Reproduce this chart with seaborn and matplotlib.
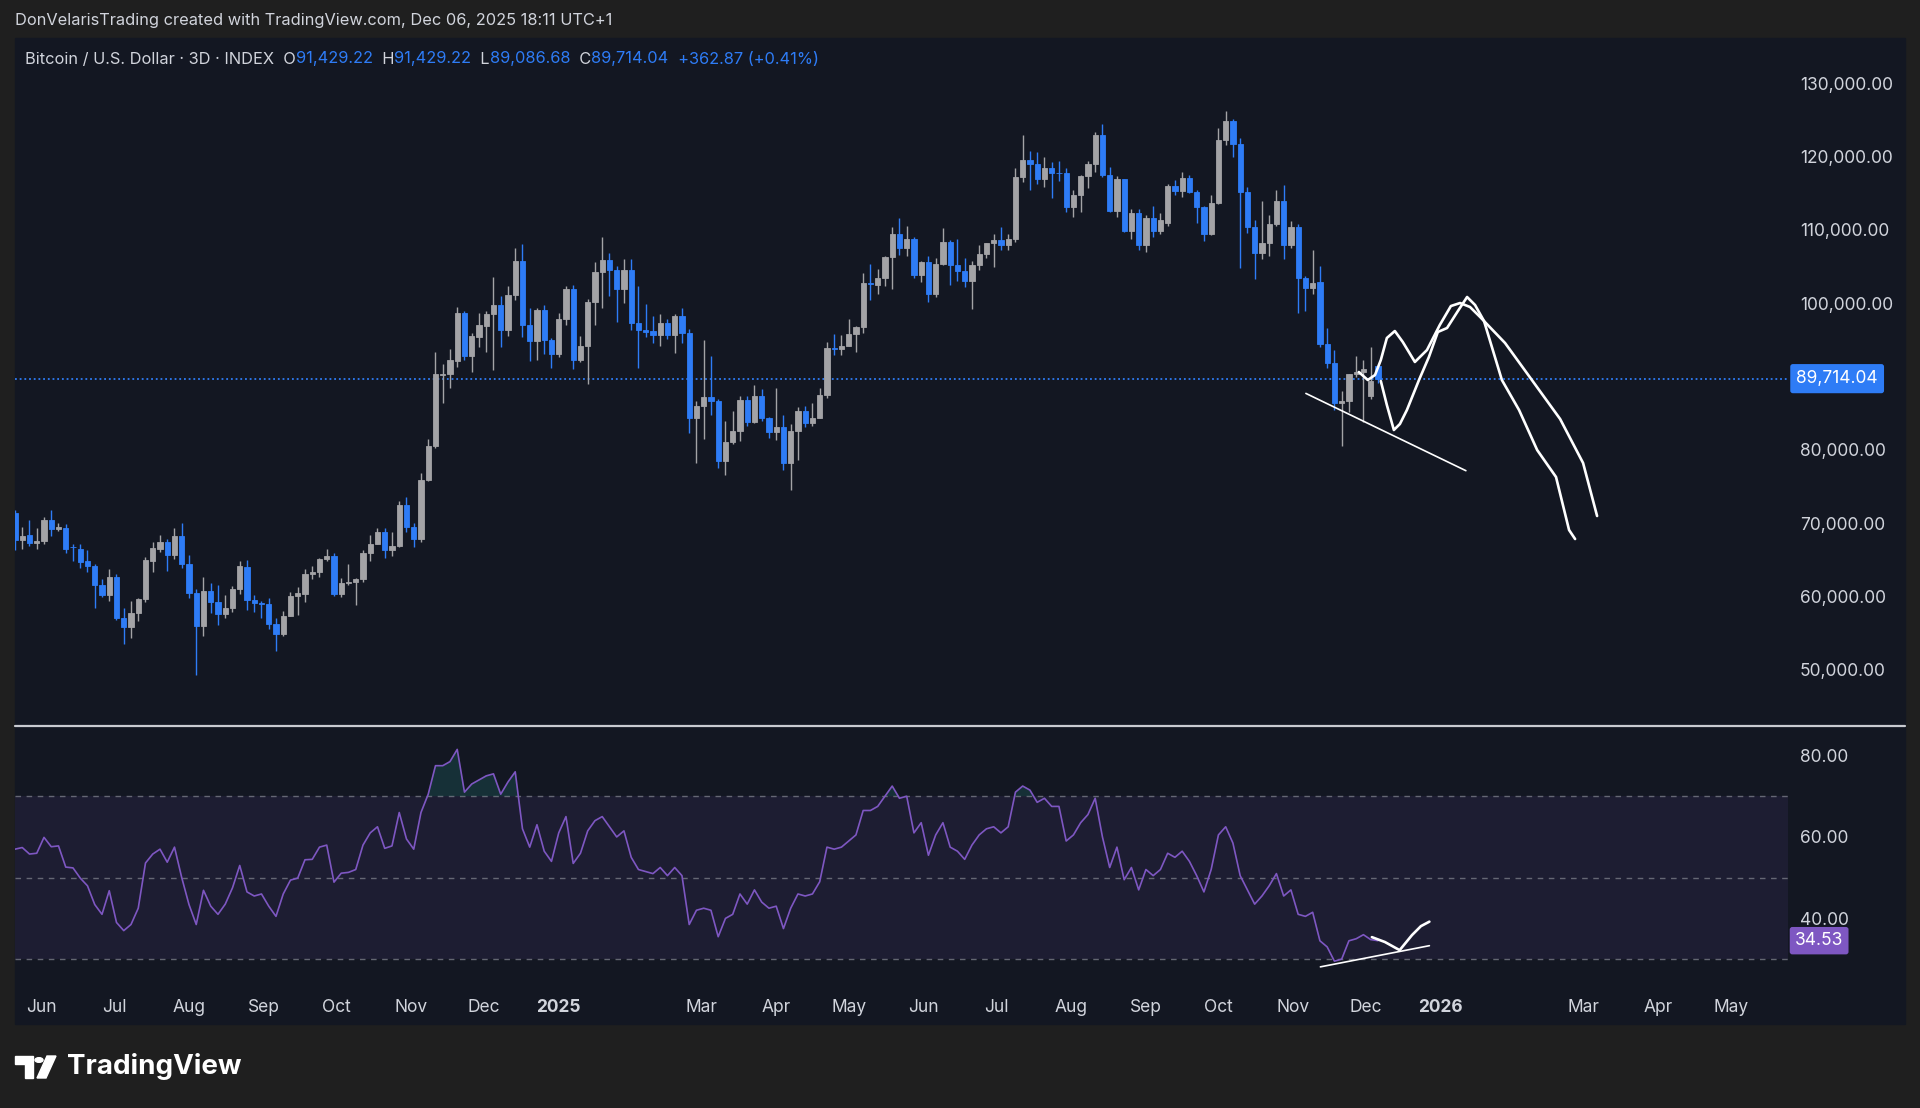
import numpy as np
import pandas as pd
import matplotlib
matplotlib.use("Agg")
import matplotlib.pyplot as plt
import matplotlib.dates as mdates
from matplotlib.patches import Rectangle, Circle, Polygon
from matplotlib.lines import Line2D
import seaborn as sns

# --- data: BTCUSD index, 3D candles (prices in thousands of USD) ---
start_date = "2024-05-21"

opens = [71.4, 67.7, 68.4, 67.3, 67.6, 70.4, 69.2, 69.4, 66.8, 66.5,
         64.8, 64.1, 61.6, 60.2, 62.7, 57.0, 55.8, 57.7, 59.7, 64.9,
         66.5, 67.4, 65.6, 68.2, 64.4, 60.5, 56.0, 60.8, 59.3, 57.6,
         58.4, 61.0, 64.0, 59.5, 59.1, 59.0, 56.2, 54.9, 57.3, 60.1,
         60.3, 63.1, 63.3, 65.1, 65.5, 60.4, 61.9, 62.0, 62.4, 65.9,
         67.2, 68.8, 66.4, 66.9, 72.5, 69.5, 67.8, 75.9, 80.5, 90.2,
         90.3, 92.1, 98.7, 92.8, 95.4, 96.9, 98.5, 99.7, 96.4, 101.1,
         105.8, 97.1, 94.8, 99.1, 95.0, 93.1, 97.9, 102.0, 92.2, 94.2,
         100.2, 104.2, 105.9, 104.5, 101.9, 104.5, 97.3, 96.3, 96.2, 95.6,
         97.3, 95.6, 98.2, 96.0, 84.3, 86.0, 87.2, 86.7, 78.5, 81.1,
         82.6, 86.8, 83.8, 87.4, 84.3, 82.5, 83.1, 78.2, 82.6, 85.3,
         83.6, 84.4, 87.5, 93.9, 93.8, 94.2, 95.8, 96.8, 102.7, 102.5,
         103.5, 106.3, 109.4, 107.5, 108.7, 103.8, 105.6, 101.3, 105.4, 108.4,
         105.2, 104.4, 103.0, 105.2, 106.7, 108.2, 108.6, 107.9, 108.7, 117.2,
         119.6, 119.0, 117.0, 118.5, 117.8, 117.7, 113.1, 114.7, 117.3, 119.0,
         122.9, 117.5, 112.6, 116.9, 109.9, 112.3, 108.0, 111.6, 109.9, 111.0,
         116.0, 115.3, 117.1, 115.2, 113.1, 109.4, 113.7, 122.3, 124.8, 121.7,
         115.2, 110.4, 106.9, 108.2, 110.8, 113.9, 108.0, 110.4, 103.5, 102.1,
         102.9, 94.4, 91.9, 86.4, 86.6, 90.3, 90.6, 87.3, 91.42922]

highs = [71.8, 69.5, 70.4, 69.4, 70.9, 71.8, 70.0, 69.9, 67.2, 67.2,
         66.3, 64.4, 62.4, 63.8, 63.0, 58.4, 59.4, 59.8, 65.4, 67.4,
         68.4, 67.8, 69.3, 70.0, 65.6, 61.0, 62.7, 61.8, 61.6, 60.2,
         61.4, 64.9, 65.0, 60.2, 59.4, 59.8, 57.0, 58.0, 60.6, 61.3,
         63.8, 64.1, 65.2, 66.5, 66.0, 62.5, 64.5, 62.5, 66.4, 68.4,
         69.3, 69.4, 68.8, 73.0, 73.6, 70.0, 76.9, 81.5, 93.3, 91.7,
         93.7, 99.5, 98.9, 96.0, 98.7, 99.0, 103.6, 101.0, 102.3, 107.5,
         108.1, 99.3, 99.3, 99.8, 95.3, 98.7, 102.3, 102.5, 95.5, 100.6,
         105.6, 109.1, 106.8, 105.1, 106.1, 106.1, 102.3, 99.9, 98.3, 98.6,
         97.8, 98.5, 99.3, 96.5, 86.6, 95.0, 92.8, 86.9, 84.0, 85.3,
         87.4, 87.4, 88.8, 88.3, 84.5, 88.5, 84.7, 83.5, 85.8, 86.0,
         86.4, 88.5, 94.7, 95.8, 95.6, 97.9, 96.9, 104.1, 105.4, 104.7,
         106.5, 110.4, 111.6, 110.5, 109.0, 105.7, 106.5, 106.2, 110.3, 108.6,
         108.7, 106.2, 105.8, 108.0, 108.2, 109.5, 110.4, 109.4, 118.5, 122.9,
         120.7, 120.6, 119.9, 119.3, 119.4, 118.4, 115.5, 117.5, 119.4, 123.3,
         124.5, 118.6, 117.4, 117.0, 112.8, 112.8, 112.0, 113.2, 112.3, 116.3,
         116.8, 117.9, 117.5, 115.4, 113.3, 114.8, 123.9, 126.2, 125.1, 122.5,
         115.9, 111.3, 113.9, 112.0, 115.5, 116.1, 111.2, 110.8, 103.7, 107.2,
         105.1, 96.6, 93.6, 88.0, 90.4, 92.8, 92.2, 94.0, 91.42922]

lows = [66.3, 66.5, 66.9, 66.5, 67.2, 68.2, 69.0, 65.9, 64.9, 63.9,
        63.3, 58.4, 59.9, 59.4, 56.8, 53.5, 54.3, 56.6, 59.3, 63.3,
        66.1, 63.5, 65.1, 63.9, 59.8, 49.3, 54.6, 57.7, 56.1, 57.1,
        57.9, 60.3, 58.1, 57.9, 57.1, 55.6, 52.6, 54.6, 57.3, 57.5,
        59.2, 62.4, 62.7, 64.8, 60.1, 59.9, 61.6, 58.9, 62.0, 64.8,
        67.1, 65.3, 65.5, 66.8, 68.8, 66.8, 67.5, 75.7, 80.3, 86.4,
        88.5, 91.3, 92.3, 90.6, 94.0, 93.4, 90.9, 94.0, 95.5, 100.4,
        95.4, 92.1, 92.2, 93.1, 91.2, 92.6, 97.1, 91.0, 92.0, 89.0,
        97.1, 99.3, 101.0, 97.5, 100.0, 96.3, 91.2, 95.4, 94.6, 94.1,
        95.1, 93.2, 94.6, 82.3, 78.2, 81.5, 84.7, 77.5, 76.6, 80.8,
        81.2, 83.2, 83.6, 83.9, 81.6, 81.3, 77.2, 74.5, 78.6, 83.1,
        83.2, 84.3, 87.1, 93.0, 92.9, 94.2, 93.4, 96.0, 100.5, 101.2,
        102.4, 101.9, 106.6, 106.4, 103.4, 102.9, 100.2, 100.9, 105.2, 102.5,
        103.1, 102.2, 99.2, 104.5, 106.2, 105.0, 107.2, 107.3, 108.3, 116.6,
        115.5, 116.2, 115.9, 114.4, 116.7, 112.5, 111.8, 112.5, 115.7, 117.9,
        117.2, 112.5, 111.7, 109.7, 108.7, 107.2, 107.0, 109.1, 109.5, 110.6,
        114.8, 114.5, 115.1, 111.0, 108.5, 109.3, 113.6, 121.6, 119.9, 104.8,
        109.6, 103.3, 106.0, 106.4, 110.6, 106.1, 107.5, 98.7, 99.0, 101.2,
        94.0, 91.1, 85.4, 80.5, 85.1, 89.9, 83.8, 86.9, 89.08668]

closes = [67.7, 68.3, 67.3, 67.6, 70.4, 69.2, 69.5, 66.5, 66.7, 64.75,
          64.1, 61.6, 60.2, 62.7, 57.0, 55.8, 57.7, 59.7, 65.0, 66.6,
          67.4, 65.6, 68.2, 64.4, 60.5, 56.0, 60.8, 59.3, 57.6, 58.4,
          61.0, 64.1, 59.5, 59.1, 59.0, 56.2, 54.9, 57.3, 60.0, 60.5,
          63.1, 63.3, 65.1, 65.5, 60.4, 61.9, 62.0, 62.4, 65.9, 67.2,
          68.8, 66.4, 66.9, 72.5, 69.5, 67.8, 75.9, 80.5, 90.3, 90.4,
          92.2, 98.7, 92.8, 95.5, 97.1, 98.5, 99.7, 96.4, 101.1, 105.8,
          97.1, 94.8, 99.1, 95.0, 93.1, 97.9, 102.0, 92.2, 94.2, 100.2,
          104.2, 105.9, 104.5, 101.9, 104.5, 97.3, 96.3, 96.1, 95.6, 97.3,
          95.6, 98.2, 96.0, 84.3, 86.0, 87.2, 86.7, 78.5, 81.1, 82.6,
          86.8, 83.8, 87.4, 84.3, 82.5, 83.1, 78.2, 82.6, 85.3, 83.6,
          84.4, 87.5, 93.9, 93.8, 94.2, 95.8, 96.8, 102.7, 102.6, 103.5,
          106.3, 109.4, 107.5, 108.7, 103.8, 105.6, 101.3, 105.4, 108.4, 105.2,
          104.4, 103.0, 105.2, 106.7, 108.2, 108.6, 107.9, 108.7, 117.2, 119.6,
          119.0, 117.0, 118.5, 117.7, 117.7, 113.1, 114.7, 117.3, 119.0, 122.9,
          117.5, 112.6, 116.9, 109.9, 112.3, 108.0, 111.6, 109.9, 111.3, 116.0,
          115.3, 117.1, 115.2, 113.1, 109.4, 113.7, 122.3, 124.8, 121.7, 115.2,
          110.4, 106.9, 108.2, 110.8, 113.9, 108.0, 110.4, 103.5, 102.1, 102.7,
          94.4, 91.9, 86.4, 86.6, 90.3, 90.6, 91.0, 89.35117, 89.71404]

rsi = [57.0, 57.4, 55.8, 56.0, 59.9, 57.6, 57.8, 52.6, 52.4, 49.9,
       48.0, 43.4, 41.0, 46.8, 39.0, 37.0, 38.5, 42.5, 53.6, 55.8,
       57.0, 53.8, 57.5, 50.0, 43.4, 38.5, 46.9, 43.0, 41.0, 43.5,
       47.5, 53.0, 46.5, 45.5, 46.0, 43.0, 40.5, 46.0, 49.4, 49.9,
       54.4, 54.5, 57.5, 58.0, 48.9, 51.1, 51.3, 52.0, 58.0, 61.0,
       62.5, 57.2, 57.8, 66.0, 59.5, 57.0, 66.0, 70.5, 77.5, 77.5,
       78.5, 81.5, 71.0, 73.0, 74.0, 75.0, 75.5, 70.5, 73.5, 76.0,
       62.0, 57.5, 63.0, 56.5, 54.0, 61.0, 65.0, 53.5, 56.0, 61.5,
       64.0, 65.0, 62.5, 60.0, 61.5, 55.0, 52.0, 51.5, 51.0, 52.5,
       50.5, 52.5, 50.5, 38.5, 42.0, 42.5, 42.0, 35.5, 40.0, 41.0,
       46.0, 43.5, 47.0, 44.0, 42.5, 43.0, 37.5, 42.5, 46.0, 45.5,
       46.0, 49.0, 57.5, 57.0, 57.5, 59.0, 60.5, 66.5, 66.5, 67.5,
       70.0, 72.5, 69.5, 70.0, 61.0, 63.5, 55.5, 60.5, 63.5, 57.5,
       56.5, 54.5, 58.0, 60.5, 62.0, 62.5, 61.0, 62.5, 71.0, 72.5,
       71.5, 68.5, 69.5, 67.5, 67.5, 59.0, 60.5, 63.5, 65.5, 69.5,
       60.0, 52.5, 57.5, 49.5, 52.5, 47.0, 52.0, 50.5, 52.0, 56.0,
       55.0, 56.5, 54.0, 50.5, 46.5, 52.0, 60.5, 62.5, 58.5, 50.5,
       47.0, 43.5, 45.5, 48.0, 51.0, 45.5, 47.0, 41.0, 40.5, 41.5,
       34.5, 33.0, 29.5, 30.0, 34.5, 35.0, 36.0, 34.8, 34.53]

month_ticks = ["2024-06-01", "2024-07-01", "2024-08-01", "2024-09-01", "2024-10-01",
               "2024-11-01", "2024-12-01", "2025-01-01", "2025-03-01", "2025-04-01",
               "2025-05-01", "2025-06-01", "2025-07-01", "2025-08-01", "2025-09-01",
               "2025-10-01", "2025-11-01", "2025-12-01", "2026-01-01", "2026-03-01",
               "2026-04-01", "2026-05-01"]
month_labels = ["Jun", "Jul", "Aug", "Sep", "Oct", "Nov", "Dec", "2025", "Mar", "Apr",
                "May", "Jun", "Jul", "Aug", "Sep", "Oct", "Nov", "Dec", "2026", "Mar",
                "Apr", "May"]
# 90,000 is hidden behind the last-price tag in the reference
price_ticks = [50000, 60000, 70000, 80000, 100000, 110000, 120000, 130000]
rsi_ticks = [40, 60, 80]

# hand drawn sketches: (days after start_date, value)
support_days = [534.2, 600.4]
support_px = [87.7, 77.16]
path_a_days = [556.1, 559.8, 562.8, 565.2, 567.7, 571.0, 574.3, 579.3, 584.3, 589.6,
               594.2, 598.0, 602.1, 606.3, 616.6, 627.4, 639.4, 648.9, 654.7]
path_a_px = [90.62, 89.53, 90.21, 92.26, 95.26, 96.21, 94.71, 91.99, 93.62, 97.03,
             99.62, 100.03, 99.49, 98.12, 94.58, 89.67, 84.21, 78.21, 70.98]
path_b_days = [565.2, 567.7, 570.6, 573.1, 576.0, 581.0, 585.1, 588.8, 592.6, 597.1,
               600.9, 604.2, 607.9, 615.3, 622.4, 629.9, 637.7, 643.1, 645.6]
path_b_px = [89.39, 86.12, 82.71, 83.53, 85.44, 89.53, 92.67, 96.08, 96.62, 98.94,
             100.85, 99.76, 97.58, 89.53, 85.44, 79.98, 76.30, 69.07, 67.84]
rsi_line_days = [540.2, 585.3]
rsi_line_vals = [28.1, 33.3]
rsi_curve_days = [561.5, 566.9, 573.0, 578.1, 581.8, 585.3]
rsi_curve_vals = [35.4, 34.2, 32.2, 35.9, 38.1, 39.2]

# --- style ---
OUTER = "#1f1f1f"
PANEL = "#131722"
TEXT = "#d1d4dc"
GRAY = "#a3a3a6"
BLUE = "#2e7cf6"
PURPLE = "#7e57c2"

sns.set_theme(style="dark", rc={"axes.facecolor": PANEL, "figure.facecolor": OUTER})
plt.rcParams["font.family"] = ["Inter", "DejaVu Sans"]

W, H = 1920, 1108
fig = plt.figure(figsize=(19.2, 11.08), dpi=100)
fig.patches.append(Rectangle((15 / W, 1 - 1024 / H), 1890 / W, 986 / H,
                             transform=fig.transFigure, color=PANEL, zorder=-10))

ax = fig.add_axes([15 / W, 1 - 726 / H, 1773 / W, 688 / H])
ax2 = fig.add_axes([15 / W, 1 - 986 / H, 1773 / W, 259 / H], sharex=ax)
for a in (ax, ax2):
    a.set_facecolor(PANEL)
    a.grid(False)
    for s in a.spines.values():
        s.set_visible(False)

# pane separator spans the price scale too
fig.add_artist(Line2D([15 / W, 1905 / W], [1 - 726 / H, 1 - 726 / H],
                      transform=fig.transFigure, color="#c9cbd1", lw=1.6))

o = np.array(opens) * 1000
h = np.array(highs) * 1000
l = np.array(lows) * 1000
c = np.array(closes) * 1000
dates = pd.date_range(start_date, periods=len(c), freq="3D")
x = mdates.date2num(dates)
x0 = mdates.date2num(pd.Timestamp(start_date))
cols = np.where(c >= o, GRAY, BLUE)

# candles
ax.vlines(x, l, h, colors=cols, lw=1.0, zorder=2)
ax.bar(x, np.abs(c - o), bottom=np.minimum(o, c), width=2.2, color=cols,
       edgecolor=cols, linewidth=0.6, zorder=3)
ax.axhline(c[-1], color=BLUE, lw=1.3, ls=(0, (1.0, 1.6)), zorder=1)

# sketches
sk = dict(color="white", lw=1.9, solid_capstyle="round", solid_joinstyle="round", zorder=5)
ax.plot(x0 + np.array(support_days), np.array(support_px) * 1000, color="white", lw=1.2, zorder=5)
ax.plot(x0 + np.array(path_a_days), np.array(path_a_px) * 1000, **sk)
ax.plot(x0 + np.array(path_b_days), np.array(path_b_px) * 1000, **sk)

ax.set_ylim(42335, 136179)
ax.set_xlim(x0, x0 + 733.7)
ax.yaxis.tick_right()
ax.set_yticks(price_ticks)
ax.set_yticklabels([f"{v:,.2f}" for v in price_ticks])
ax.tick_params(axis="y", length=0, pad=8.5, labelsize=12.5, labelcolor=TEXT)
ax.tick_params(axis="x", labelbottom=False, length=0)

ax.annotate(f"{c[-1]:,.2f}", xy=(1.0, c[-1]), xycoords=("axes fraction", "data"),
            xytext=(6, 0), textcoords="offset points", va="center", ha="left",
            fontsize=12.5, color="white",
            bbox=dict(boxstyle="round,pad=0.35,rounding_size=0.15", fc=BLUE, ec="none"))

# RSI pane
r = np.array(rsi)
ax2.axhspan(30, 70, color=PURPLE, alpha=0.1, lw=0, zorder=0)
for lvl in (70, 50, 30):
    ax2.axhline(lvl, color="#787b86", lw=1.0, alpha=0.8, ls=(0, (4, 4)), zorder=1)
ax2.fill_between(x, r, 70, where=r > 70, interpolate=True, color="#26a69a", alpha=0.18, lw=0)
sns.lineplot(x=x, y=r, ax=ax2, color=PURPLE, lw=1.2, zorder=3)
ax2.plot(x0 + np.array(rsi_line_days), rsi_line_vals, color="white", lw=1.2, zorder=5)
ax2.plot(x0 + np.array(rsi_curve_days), rsi_curve_vals, **sk)

ax2.set_ylim(23.4, 87.0)
ax2.yaxis.tick_right()
ax2.set_yticks(rsi_ticks)
ax2.set_yticklabels([f"{v:.2f}" for v in rsi_ticks])
ax2.tick_params(axis="y", length=0, pad=8.5, labelsize=12.5, labelcolor=TEXT)
ax2.set_xticks(mdates.date2num(pd.to_datetime(month_ticks)))
ax2.set_xticklabels(month_labels)
ax2.tick_params(axis="x", length=0, pad=9, labelsize=12.5, labelcolor=TEXT)
for t in ax2.get_xticklabels():
    if t.get_text().isdigit():
        t.set_fontweight("bold")
ax2.set_xlabel("")
ax2.set_ylabel("")
ax2.annotate(f"{r[-1]:.2f}", xy=(1.0, r[-1]), xycoords=("axes fraction", "data"),
             xytext=(5, 0), textcoords="offset points", va="center", ha="left",
             fontsize=12.5, color="white",
             bbox=dict(boxstyle="round,pad=0.3,rounding_size=0.15", fc=PURPLE, ec="none"))

# header texts
fig.text(15 / W, 1 - 21 / H, "DonVelarisTrading created with TradingView.com, Dec 06, 2025 18:11 UTC+1",
         color=TEXT, fontsize=11.8, va="center", ha="left")

chg = c[-1] - c[-2]
parts = [("Bitcoin / U.S. Dollar · 3D · INDEX", TEXT), ("  O", TEXT), (f"{o[-1]:,.2f}", BLUE),
         ("  H", TEXT), (f"{h[-1]:,.2f}", BLUE), ("  L", TEXT), (f"{l[-1]:,.2f}", BLUE),
         ("  C", TEXT), (f"{c[-1]:,.2f}", BLUE),
         (f"  {chg:+,.2f} ({chg / c[-2] * 100:+.2f}%)", BLUE)]
renderer = fig.canvas.get_renderer()
xpos = 25
for txt, col in parts:
    t = fig.text(xpos / W, 1 - 59 / H, txt, color=col, fontsize=11.8, va="center", ha="left")
    xpos += t.get_window_extent(renderer).width

# logo
fig.patches.append(Polygon([[15 / W, 1 - 1056 / H], [33 / W, 1 - 1056 / H], [33 / W, 1 - 1078 / H],
                            [25 / W, 1 - 1078 / H], [25 / W, 1 - 1064 / H], [15 / W, 1 - 1064 / H]],
                           closed=True, transform=fig.transFigure, color="white"))
fig.patches.append(Circle((39 / W, 1 - 1060 / H), 4 / W, transform=fig.transFigure, color="white"))
fig.patches.append(Polygon([[47 / W, 1 - 1056 / H], [56 / W, 1 - 1056 / H], [46 / W, 1 - 1078 / H],
                            [37 / W, 1 - 1078 / H]],
                           closed=True, transform=fig.transFigure, color="white"))
fig.text(67 / W, 1 - 1066 / H, "TradingView", color="white", fontsize=20, fontweight="bold",
         va="center", ha="left")

fig.savefig("out.png", dpi=100, facecolor=OUTER)
